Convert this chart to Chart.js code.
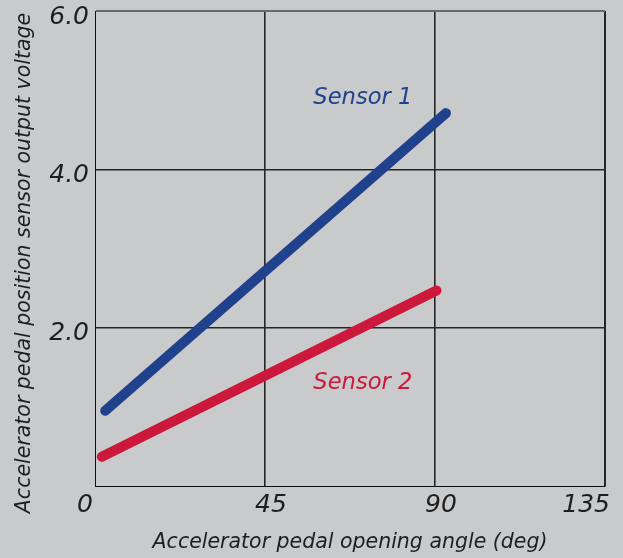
<!DOCTYPE html>
<html>
<head>
<meta charset="utf-8">
<script src="https://cdn.jsdelivr.net/npm/chart.js@4"></script>
<style>
    body { margin: 0; background: #c9cacc; }
    canvas { display: block; }
</style>
</head>
<body>
<canvas id="grafico-sensores" width="623" height="558"></canvas>
<script>
// Datos (angulo en grados, tension en V)
const angulosSensor1 = [2.7, 92.9];
const tensionSensor1 = [0.95, 4.71];
const angulosSensor2 = [1.8, 90.4];
const tensionSensor2 = [0.37, 2.47];

const ticksAngulo = [0, 45, 90, 135];
const etiquetasAngulo = ["0", "45", "90", "135"];
const ticksTension = [0, 2, 4, 6];
const etiquetasTension = ["", "2.0", "4.0", "6.0"];

const nombresSeries = ["Sensor 1", "Sensor 2"];
const tituloX = "Accelerator pedal opening angle (deg)";
const tituloY = "Accelerator pedal position sensor output voltage";

document.addEventListener("DOMContentLoaded", function () {
    const fuente = "'DejaVu Sans'";
    const azul = "rgb(32, 66, 140)";
    const rojo = "rgb(204, 24, 58)";

    function puntos(xs, ys) {
        return xs.map((x, i) => ({ x: x, y: ys[i] }));
    }

    // Textos que no caben en las opciones de Chart.js: etiquetas del eje X, titulo Y, nombres de series
    const textos = {
        id: "textos",
        afterDraw(chart) {
            const ctx = chart.ctx;
            const ejeX = chart.scales.x;
            const ejeY = chart.scales.y;
            const area = chart.chartArea;
            ctx.save();
            ctx.fillStyle = "#1e1e1e";
            ctx.textBaseline = "middle";
            ctx.font = "italic 25px " + fuente;
            ticksAngulo.forEach((valor, i) => {
                const px = ejeX.getPixelForValue(valor);
                if (i === 0) {
                    ctx.textAlign = "right";
                    ctx.fillText(etiquetasAngulo[i], px - 2, area.bottom + 19);
                } else if (i === ticksAngulo.length - 1) {
                    ctx.textAlign = "right";
                    ctx.fillText(etiquetasAngulo[i], px + 5, area.bottom + 19);
                } else {
                    ctx.textAlign = "center";
                    ctx.fillText(etiquetasAngulo[i], px + 6, area.bottom + 19);
                }
            });

            // titulo del eje Y
            ctx.font = "italic 20.5px " + fuente;
            ctx.textAlign = "center";
            ctx.translate(25, 263);
            ctx.rotate(-Math.PI / 2);
            ctx.fillText(tituloY, 0, 0);
            ctx.restore();

            // nombres de las series
            ctx.save();
            ctx.font = "italic 22.6px " + fuente;
            ctx.textAlign = "left";
            ctx.textBaseline = "middle";
            ctx.fillStyle = azul;
            ctx.fillText(nombresSeries[0], ejeX.getPixelForValue(57.8), ejeY.getPixelForValue(4.9));
            ctx.fillStyle = rojo;
            ctx.fillText(nombresSeries[1], ejeX.getPixelForValue(57.8), ejeY.getPixelForValue(1.3));
            ctx.restore();
        }
    };

    const ctx = document.getElementById("grafico-sensores").getContext("2d");
    const miGrafico = new Chart(ctx, {
        type: "line",
        data: {
            datasets: [
                {
                    label: nombresSeries[0],
                    data: puntos(angulosSensor1, tensionSensor1),
                    borderColor: azul,
                    borderWidth: 10,
                    borderCapStyle: "round",
                    pointRadius: 0,
                    fill: false,
                    clip: false
                },
                {
                    label: nombresSeries[1],
                    data: puntos(angulosSensor2, tensionSensor2),
                    borderColor: rojo,
                    borderWidth: 10,
                    borderCapStyle: "round",
                    pointRadius: 0,
                    fill: false,
                    clip: false
                }
            ]
        },
        options: {
            responsive: false,
            animation: false,
            layout: { padding: { top: 11, right: 18, left: 0, bottom: 0 } },
            plugins: {
                legend: { display: false },
                tooltip: { enabled: false }
            },
            scales: {
                x: {
                    type: "linear",
                    min: 0,
                    max: 135,
                    afterBuildTicks: (eje) => { eje.ticks = ticksAngulo.map(v => ({ value: v })); },
                    afterFit: (eje) => {
                        eje.height = 72;
                        eje.paddingLeft = 0;
                        eje.paddingRight = 0;
                    },
                    ticks: { display: false },
                    grid: {
                        drawTicks: false,
                        color: (c) => c.tick && c.tick.value === 0 ? "rgba(0,0,0,0)" : "#262626",
                        lineWidth: (c) => c.tick && c.tick.value === 135 ? 2 : 1.6
                    },
                    border: { color: "#111", width: 1 },
                    title: {
                        display: true,
                        text: tituloX,
                        color: "#1e1e1e",
                        font: { family: fuente, size: 20.5, style: "italic", weight: "normal" },
                        padding: { top: 0, bottom: 3 }
                    }
                },
                y: {
                    type: "linear",
                    min: 0,
                    max: 6,
                    afterBuildTicks: (eje) => { eje.ticks = ticksTension.map(v => ({ value: v })); },
                    afterFit: (eje) => {
                        eje.width = 95;
                        eje.paddingTop = 0;
                        eje.paddingBottom = 0;
                    },
                    ticks: {
                        color: "#1e1e1e",
                        padding: 6,
                        labelOffset: 6,
                        font: { family: fuente, size: 25, style: "italic", weight: "normal" },
                        callback: (valor) => etiquetasTension[ticksTension.indexOf(valor)]
                    },
                    grid: {
                        drawTicks: false,
                        color: (c) => {
                            if (c.tick && c.tick.value === 0) return "rgba(0,0,0,0)";
                            if (c.tick && c.tick.value === 6) return "#6a6a6a";
                            return "#262626";
                        },
                        lineWidth: (c) => c.tick && c.tick.value === 6 ? 2 : 1.6
                    },
                    border: { color: "#111", width: 1 }
                }
            }
        },
        plugins: [textos]
    });
});
</script>
</body>
</html>
